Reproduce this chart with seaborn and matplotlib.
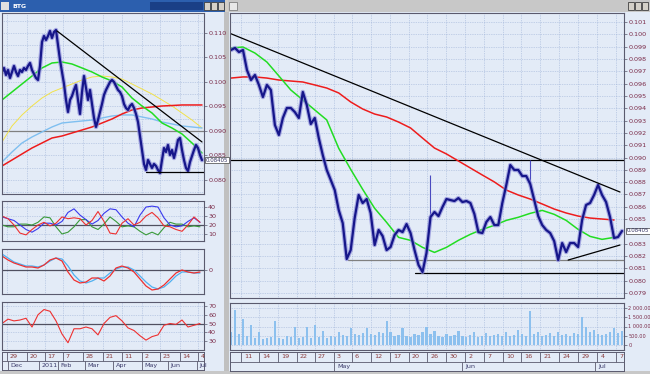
import numpy as np
import matplotlib
matplotlib.use("Agg")
import matplotlib.pyplot as plt
import seaborn as sns
from matplotlib.patches import Rectangle

# ---------------- data: left window (daily, Dec 2010 - Jul 2011) ----------------
left_close = [
    0.10204, 0.10286, 0.10143, 0.10245, 0.10082, 0.10204, 0.10327, 0.10204, 0.10122, 0.10245,
    0.10204, 0.10286, 0.10245, 0.10327, 0.10388, 0.10245, 0.10163, 0.10082, 0.10041, 0.10327,
    0.10816, 0.10939, 0.10857, 0.10939, 0.11041, 0.10898, 0.11020, 0.11061, 0.10755, 0.10449,
    0.10204, 0.09959, 0.09633, 0.09388, 0.09633, 0.09714, 0.09837, 0.09939, 0.09633, 0.09347,
    0.09796, 0.10122, 0.09878, 0.09633, 0.09837, 0.09551, 0.09265, 0.09082, 0.09224, 0.09388,
    0.09551, 0.09735, 0.09837, 0.09918, 0.10000, 0.10041, 0.10000, 0.09918, 0.09837, 0.09796,
    0.09714, 0.09551, 0.09469, 0.09429, 0.09510, 0.09551, 0.09469, 0.09347, 0.09184, 0.08898,
    0.08612, 0.08327, 0.08204, 0.08408, 0.08327, 0.08245, 0.08327, 0.08286, 0.08204, 0.08143,
    0.08408, 0.08653, 0.08571, 0.08714, 0.08510, 0.08612, 0.08449, 0.08612, 0.08816, 0.08857,
    0.08612, 0.08408, 0.08245, 0.08184, 0.08367, 0.08490, 0.08612, 0.08714, 0.08653, 0.08510,
    0.08405,
]
left_green = [0.09633, 0.09796, 0.09959, 0.10122, 0.10286, 0.10388, 0.10408, 0.10367, 0.10286, 0.10204,
              0.10102, 0.10020, 0.09898, 0.09673, 0.09510, 0.09367, 0.09163, 0.09061, 0.08939, 0.08755,
              0.08551]
left_yellow = [0.08776, 0.09102, 0.09327, 0.09510, 0.09673, 0.09796, 0.09878, 0.09959, 0.10041, 0.10102,
               0.10122, 0.10102, 0.10061, 0.09959, 0.09857, 0.09755, 0.09633, 0.09510, 0.09367, 0.09224,
               0.09061]
left_lblue = [0.08367, 0.08571, 0.08755, 0.08878, 0.08980, 0.09082, 0.09163, 0.09184, 0.09204, 0.09224,
              0.09265, 0.09306, 0.09327, 0.09327, 0.09286, 0.09245, 0.09184, 0.09143, 0.09102, 0.09082,
              0.09061]
left_red = [0.08286, 0.08408, 0.08531, 0.08653, 0.08755, 0.08857, 0.08898, 0.08959, 0.09020, 0.09082,
            0.09163, 0.09245, 0.09347, 0.09429, 0.09469, 0.09490, 0.09510, 0.09520, 0.09531, 0.09531,
            0.09531]
left_trend_x = [27.5, 100]
left_trend_y = [0.11041, 0.08776]
left_support_x = [72, 101]
left_support_y = [0.08163, 0.08163]
left_level = 0.090

# indicator panels (sampled every 3rd bar)
ind_blue = [29, 27, 25, 20, 15, 12, 16, 22, 22, 20, 24, 34, 38, 31, 26, 21, 25, 33, 38, 37,
            29, 22, 18, 31, 40, 41, 40, 28, 20, 18, 19, 24, 28, 23]
ind_red = [30, 27, 20, 11, 9, 15, 20, 23, 19, 22, 29, 27, 28, 27, 20, 25, 35, 24, 11, 10,
           22, 27, 20, 23, 30, 34, 28, 19, 18, 15, 13, 20, 29, 23]
ind_green = [20, 18, 18, 21, 21, 20, 23, 29, 28, 18, 10, 12, 18, 26, 26, 18, 15, 21, 29, 24,
             18, 19, 18, 13, 9, 12, 9, 17, 23, 21, 21, 18, 19, 18]
macd_red = [14, 10, 7, 5, 3, 3, 2, 5, 10, 12, 9, -2, -10, -13, -12, -8, -8, -11, -6, 2,
            4, 2, -2, -9, -16, -20, -19, -15, -9, -3, 0, -2, -3, -2]
macd_blue = [16, 12, 8, 6, 4, 4, 3, 5, 9, 12, 11, 4, -5, -11, -13, -11, -8, -8, -3, 1,
             3, 3, 0, -6, -12, -17, -19, -17, -12, -6, -2, -2, -3, -3]
rsi = [50, 55, 53, 54, 56, 46, 60, 66, 64, 53, 38, 28, 44, 44, 46, 44, 37, 50, 57, 59,
       53, 45, 42, 36, 31, 35, 37, 48, 50, 49, 54, 46, 48, 50]

left_day_ticks = [2.5, 12.5, 21.5, 30.5, 40.5, 50.5, 60, 70, 79, 89, 98]
left_day_labels = ["29", "20", "17", "7", "28", "21", "11", "2", "23", "14", "4"]
left_month_ticks = [3, 18.5, 28, 41.5, 55.5, 70, 83, 97.5]
left_month_labels = ["Dec", "2011", "Feb", "Mar", "Apr", "May", "Jun", "Jul"]

# ---------------- data: right window (Apr - Jul 2011) ----------------
right_close = [
    0.09873, 0.09889, 0.09856, 0.09873, 0.09710, 0.09629, 0.09670, 0.09589, 0.09491, 0.09589,
    0.09548, 0.09264, 0.09183, 0.09321, 0.09402, 0.09402, 0.09369, 0.09321, 0.09532, 0.09426,
    0.09272, 0.09321, 0.09158, 0.09020, 0.08899, 0.08818, 0.08736, 0.08574, 0.08468, 0.08176,
    0.08249, 0.08509, 0.08696, 0.08631, 0.08663, 0.08550, 0.08290, 0.08412, 0.08363, 0.08249,
    0.08274, 0.08371, 0.08412, 0.08395, 0.08460, 0.08387, 0.08249, 0.08128, 0.08071, 0.08225,
    0.08517, 0.08558, 0.08525, 0.08598, 0.08663, 0.08655, 0.08647, 0.08671, 0.08639, 0.08647,
    0.08631, 0.08542, 0.08395, 0.08387, 0.08477, 0.08517, 0.08452, 0.08452, 0.08631, 0.08777,
    0.08939, 0.08899, 0.08899, 0.08850, 0.08850, 0.08785, 0.08655, 0.08525, 0.08452, 0.08412,
    0.08387, 0.08322, 0.08168, 0.08306, 0.08233, 0.08306, 0.08306, 0.08274, 0.08493, 0.08615,
    0.08631, 0.08696, 0.08777, 0.08696, 0.08639, 0.08517, 0.08347, 0.08355, 0.08404,
]
wick_x = [50, 75]
wick_high = [0.08858, 0.08980]
right_green = [0.09889, 0.09897, 0.09848, 0.09775, 0.09662, 0.09548, 0.09467, 0.09386, 0.09305, 0.09075,
               0.08904, 0.08742, 0.08588, 0.08474, 0.08352, 0.08328, 0.08271, 0.08230, 0.08271, 0.08328,
               0.08377, 0.08417, 0.08450, 0.08490, 0.08515, 0.08547, 0.08571, 0.08539, 0.08490, 0.08417,
               0.08360, 0.08336, 0.08352]
right_red = [0.09645, 0.09654, 0.09654, 0.09645, 0.09629, 0.09621, 0.09613, 0.09589, 0.09564, 0.09524,
             0.09451, 0.09394, 0.09353, 0.09329, 0.09288, 0.09240, 0.09158, 0.09077, 0.09029, 0.08972,
             0.08915, 0.08858, 0.08802, 0.08736, 0.08696, 0.08663, 0.08623, 0.08582, 0.08550, 0.08525,
             0.08509, 0.08501, 0.08493]
right_trend_x = [-0.5, 97.5]
right_trend_y = [0.10011, 0.08720]
right_rise_x = [84.5, 97.5]
right_rise_y = [0.08168, 0.08290]
right_level = 0.0898
right_grey_x = [29.25, 98.5]
right_grey_y = [0.08170, 0.08170]
right_low_x = [46, 98.5]
right_low_y = [0.08063, 0.08063]
volume = [700, 1900, 600, 1400, 500, 1100, 400, 700, 350, 400,
          450, 1300, 400, 350, 500, 450, 1000, 400, 450, 1000,
          400, 1100, 450, 750, 400, 500, 450, 700, 550, 500,
          900, 600, 550, 650, 900, 600, 550, 700, 650, 1300,
          700, 500, 550, 900, 500, 450, 600, 550, 700, 1000,
          600, 750, 500, 450, 600, 500, 550, 750, 500, 450,
          550, 700, 450, 500, 650, 500, 550, 600, 500, 700,
          500, 550, 800, 600, 500, 1800, 600, 700, 500, 550,
          650, 500, 700, 550, 600, 500, 650, 600, 1500, 1000,
          700, 800, 600, 550, 600, 700, 900, 650, 750]

right_day_ticks = [2.5, 7, 11.75, 16.5, 21, 25.75, 30.25, 35, 39.75, 44.5, 49.25,
                   54, 58.75, 63.5, 68.25, 72.75, 77.5, 82.25, 87, 91.75, 96.5]
right_day_labels = ["11", "14", "19", "22", "27", "3", "6", "12", "17", "20", "26",
                    "30", "2", "7", "10", "16", "21", "24", "29", "4", "7"]
right_month_ticks = [25.75, 58, 91.25]
right_month_labels = ["May", "Jun", "Jul"]
last_price = "0.08405"

# ---------------- drawing ----------------
sns.set_theme(style="white")
plt.rcParams['font.family'] = ['DejaVu Sans']

W, H = 650, 374
BG = '#e3ebf7'
FRAME = '#5a5a6e'
LAB = '#7a2a48'
GRID = '#9fb3d8'

fig = plt.figure(figsize=(6.5, 3.74), dpi=100)
fig.patch.set_facecolor('#d4d0c8')


def rect_px(x0, y0, x1, y1):
    return [x0 / W, 1 - y1 / H, (x1 - x0) / W, (y1 - y0) / H]


def patch(x0, y0, x1, y1, color, ec='none'):
    fig.add_artist(Rectangle((x0 / W, 1 - y1 / H), (x1 - x0) / W, (y1 - y0) / H,
                             transform=fig.transFigure, facecolor=color, edgecolor=ec,
                             lw=0.6, zorder=-10))


# window backgrounds and title bars
patch(0, 12, 224, 372, BG)
patch(229, 12, 650, 372, BG)
patch(0, 0, 225, 12, '#2c5fae')
patch(150, 2, 203, 10, '#1a3f86')
for bx in (204, 211, 218):
    patch(bx, 2, bx + 6, 10, '#d4d0c8', '#404040')
patch(1, 2, 9, 10, '#e0e0e0')
fig.text(12 / W, 1 - 6.5 / H, "BTG", color='white', fontsize=4.5, va='center', fontweight='bold')
patch(228, 0, 650, 12, '#c8c8c8')
patch(229, 2, 237, 10, '#e8e8e8', '#808080')
for bx in (628, 635, 642):
    patch(bx, 2, bx + 6, 10, '#d4d0c8', '#404040')
patch(224, 12, 229, 374, '#c0c0c0')
patch(0, 371, 650, 374, '#c8c8c8')


def style_ax(ax, xlim, xticks, fs=4.6):
    ax.set_facecolor(BG)
    ax.set_xlim(xlim)
    ax.set_xticks(xticks)
    ax.tick_params(axis='x', length=0, labelbottom=False)
    ax.yaxis.tick_right()
    ax.tick_params(axis='y', which='both', labelsize=fs, colors=FRAME, labelcolor=LAB,
                   length=2, width=0.5, pad=1)
    ax.tick_params(axis='y', which='minor', length=0)
    ax.grid(True, which='both', color=GRID, linestyle=(0, (1, 1.5)), lw=0.5)
    for s in ax.spines.values():
        s.set_color(FRAME)
        s.set_linewidth(0.8)
    ax.set_xlabel('')
    ax.set_ylabel('')


def price_line(ax, x, y):
    sns.lineplot(x=x, y=y, ax=ax, color='#8a8ad8', lw=3.2, alpha=0.7, legend=False)
    sns.lineplot(x=x, y=y, ax=ax, color='#16168a', lw=1.6, legend=False)


def last_box(ax, lo, hi, xoff):
    ax.text(xoff, (float(last_price) - lo) / (hi - lo), last_price,
            transform=ax.transAxes, fontsize=3.9, color='#303060', va='center', zorder=20,
            bbox=dict(boxstyle='square,pad=0.15', fc='white', ec='#404040', lw=0.5))


# ---- left price panel ----
lx = np.arange(len(left_close))
lmx = np.arange(0, len(left_close), 5)
ax = fig.add_axes(rect_px(2, 13, 204, 194))
ax.axhline(left_level, color='#808080', lw=0.9)
sns.lineplot(x=lmx, y=left_yellow, ax=ax, color='#f2e24a', lw=0.7, legend=False)
sns.lineplot(x=lmx, y=left_lblue, ax=ax, color='#7fbff0', lw=1.0, legend=False)
sns.lineplot(x=lmx, y=left_red, ax=ax, color='#ee1c1c', lw=1.1, legend=False)
sns.lineplot(x=lmx, y=left_green, ax=ax, color='#22dd22', lw=1.1, legend=False)
price_line(ax, lx, left_close)
sns.lineplot(x=left_trend_x, y=left_trend_y, ax=ax, color='black', lw=0.9, legend=False)
sns.lineplot(x=left_support_x, y=left_support_y, ax=ax, color='black', lw=0.9, legend=False)
llo, lhi = 0.07714, 0.11408
ax.set_ylim(llo, lhi)
style_ax(ax, (0, 101), left_day_ticks)
ax.set_yticks(np.arange(0.080, 0.1101, 0.005))
ax.set_yticks(np.arange(0.0775, 0.1126, 0.0025), minor=True)
ax.yaxis.set_major_formatter(plt.FormatStrFormatter('%.3f'))
last_box(ax, llo, lhi, 1.01)

# ---- left indicator panels ----
ix = np.arange(0, 100, 3)
ax1 = fig.add_axes(rect_px(2, 201, 204, 241))
ax1.axhline(20, color='#505060', lw=0.9)
sns.lineplot(x=ix, y=ind_green, ax=ax1, color='#3a9a3a', lw=0.8, legend=False)
sns.lineplot(x=ix, y=ind_blue, ax=ax1, color='#3a3aee', lw=0.8, legend=False)
sns.lineplot(x=ix, y=ind_red, ax=ax1, color='#ee3030', lw=0.8, legend=False)
ax1.set_ylim(2.2, 46.7)
style_ax(ax1, (0, 101), left_day_ticks)
ax1.set_yticks([10, 20, 30, 40])

ax2 = fig.add_axes(rect_px(2, 249, 204, 294))
ax2.axhline(0, color='#505060', lw=0.9)
sns.lineplot(x=ix, y=macd_blue, ax=ax2, color='#50b0f0', lw=0.9, legend=False)
sns.lineplot(x=ix, y=macd_red, ax=ax2, color='#ee3030', lw=0.9, legend=False)
ax2.set_ylim(-24, 21)
style_ax(ax2, (0, 101), left_day_ticks)
ax2.set_yticks([0])

ax3 = fig.add_axes(rect_px(2, 302, 204, 350))
ax3.axhline(50, color='#505060', lw=0.9)
sns.lineplot(x=ix, y=rsi, ax=ax3, color='#ee3030', lw=0.8, legend=False)
ax3.set_ylim(19.7, 74.6)
style_ax(ax3, (0, 101), left_day_ticks)
ax3.set_yticks([30, 40, 50, 60, 70])


def date_strip(rect, xlim, ticks, days, mticks, months, off):
    a = fig.add_axes(rect)
    a.set_facecolor(BG)
    a.set_xlim(xlim)
    a.set_ylim(0, 2)
    a.axhline(1, color=FRAME, lw=0.6)
    for t, lab in zip(ticks, days):
        a.vlines(t, 1, 2, color=FRAME, lw=0.6)
        a.text(t + off, 1.48, lab, fontsize=4.6, color='#8a3a3a', va='center', ha='left')
    for t, lab in zip(mticks, months):
        a.vlines(t, 0, 1, color=FRAME, lw=0.6)
        a.text(t + off, 0.45, lab, fontsize=4.6, color='#3a3a6a', va='center', ha='left')
    a.set_xticks([])
    a.set_yticks([])
    for s in a.spines.values():
        s.set_color(FRAME)
        s.set_linewidth(0.7)


date_strip(rect_px(2, 352, 204, 370), (0, 101), left_day_ticks, left_day_labels,
           left_month_ticks, left_month_labels, 1.3)

# ---- right price panel ----
rx = np.arange(len(right_close))
rmx = np.arange(0, len(right_close), 3)
axr = fig.add_axes(rect_px(230, 13, 624, 298))
axr.axhline(right_level, color='black', lw=0.9)
sns.lineplot(x=right_grey_x, y=right_grey_y, ax=axr, color='#808080', lw=0.9, legend=False)
sns.lineplot(x=right_low_x, y=right_low_y, ax=axr, color='black', lw=0.9, legend=False)
sns.lineplot(x=rmx, y=right_red, ax=axr, color='#ee1c1c', lw=1.1, legend=False)
sns.lineplot(x=rmx, y=right_green, ax=axr, color='#22dd22', lw=1.1, legend=False)
axr.vlines(wick_x, [right_close[i] for i in wick_x], wick_high, color='#4a4ac0', lw=0.8)
price_line(axr, rx, right_close)
sns.lineplot(x=right_trend_x, y=right_trend_y, ax=axr, color='black', lw=0.9, legend=False)
sns.lineplot(x=right_rise_x, y=right_rise_y, ax=axr, color='black', lw=0.9, legend=False)
rlo, rhi = 0.07860, 0.10173
axr.set_ylim(rlo, rhi)
style_ax(axr, (-0.25, 98.5), right_day_ticks)
rticks = [t for t in np.arange(0.079, 0.10151, 0.001) if abs(t - 0.084) > 1e-6]
axr.set_yticks(rticks)
axr.set_yticks(np.arange(0.079, 0.10151, 0.001), minor=True)
axr.yaxis.set_major_formatter(plt.FormatStrFormatter('%.3f'))
last_box(axr, rlo, rhi, 1.006)

# ---- volume panel ----
axv = fig.add_axes(rect_px(230, 303, 624, 350))
axv.bar(np.arange(len(volume)), volume, width=0.55, color='#8cc0ee', edgecolor='none')
axv.set_ylim(-250, 2250)
style_ax(axv, (-0.25, 98.5), right_day_ticks, fs=3.6)
axv.set_yticks([0, 500, 1000, 1500, 2000])
axv.set_yticklabels(["0", "500.00", "1 000.00", "1 500.00", "2 000.00"])

date_strip(rect_px(230, 352, 624, 371), (-0.25, 98.5), right_day_ticks, right_day_labels,
           right_month_ticks, right_month_labels, 0.8)

fig.savefig("out.png", dpi=100, facecolor=fig.get_facecolor())
